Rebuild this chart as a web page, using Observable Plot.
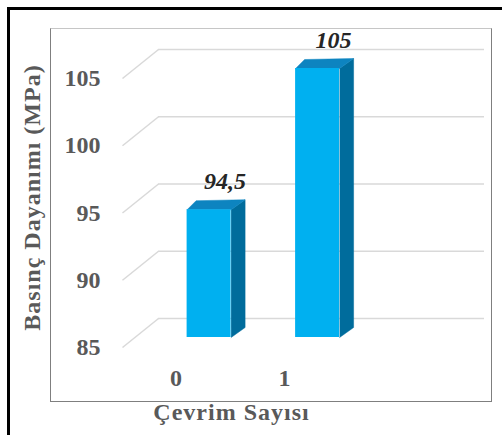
<!DOCTYPE html>
<html>
<head>
<meta charset="utf-8">
<script src="https://cdn.jsdelivr.net/npm/d3@7"></script>
<script src="https://cdn.jsdelivr.net/npm/@observablehq/plot@0.6"></script>
<style>
  html, body { margin: 0; padding: 0; background: #fff; }
  #chart { position: relative; width: 502px; height: 435px; overflow: hidden; background: #fff; }
  /* outer black edge (top and left) */
  #edge { position: absolute; left: 7px; top: 7px; right: -10px; bottom: -10px;
          border-left: 3px solid #000; border-top: 3px solid #000; }
  /* chart area border */
  #box { position: absolute; left: 50px; top: 28px; width: 440px; height: 372px;
         border: 1px solid #7f7f7f; border-top-color: #c6c6c6; }
  #chart svg { position: absolute; left: 0; top: 0; }
  #chart svg text { font-family: "Liberation Serif", "Times New Roman", serif; }
</style>
</head>
<body>
<div id="chart"><div id="edge"></div><div id="box"></div></div>
<script>
// Compressive strength by number of cycles
const cycles = [0, 1];
const cycleLabels = ["0", "1"];
const strength = [94.5, 105];
const yTicks = [85, 90, 95, 100, 105];
const yTitle = "Basınç Dayanımı (MPa)";
const xTitle = "Çevrim Sayısı";

const W = 502, H = 435;
const margin = {left: 122, right: 54, top: 78, bottom: 88};
const xDomain = [-0.6876, 2.317];
const yDomain = [85, 105];

// pixel-to-data helpers for the oblique (3D) depth offsets
const pxPerX = (W - margin.left - margin.right) / (xDomain[1] - xDomain[0]);
const pxPerY = (H - margin.top - margin.bottom) / (yDomain[1] - yDomain[0]);
const ux = (p) => p / pxPerX;
const uy = (p) => p / pxPerY;

const wall = {dx: 36, dy: 29};           // depth of floor / side wall
const bar = {half: 22, fx: 12, fy: 10,    // half width, front-face depth offset
             lx: 9, ly: 9, rx: 14, ry: 10}; // back-edge offsets (left, right)

const bars = cycles.map((c, i) => ({cycle: c, label: cycleLabels[i], value: strength[i]}));
const base = yDomain[0];

const faces = bars.map((d) => {
  const x1 = d.cycle + ux(bar.fx - bar.half);
  const x2 = d.cycle + ux(bar.fx + bar.half);
  const y1 = base + uy(bar.fy);
  const y2 = d.value + uy(bar.fy);
  return {...d, x1, x2, y1, y2};
});

const sidePts = faces.flatMap((f) => [
  {k: f.cycle, x: f.x2, y: f.y1},
  {k: f.cycle, x: f.x2 + ux(bar.rx), y: f.y1 + uy(bar.ry)},
  {k: f.cycle, x: f.x2 + ux(bar.rx), y: f.y2 + uy(bar.ry)},
  {k: f.cycle, x: f.x2, y: f.y2}
]);
const topPts = faces.flatMap((f) => [
  {k: f.cycle, x: f.x1, y: f.y2},
  {k: f.cycle, x: f.x1 + ux(bar.lx), y: f.y2 + uy(bar.ly)},
  {k: f.cycle, x: f.x2 + ux(bar.rx), y: f.y2 + uy(bar.ry)},
  {k: f.cycle, x: f.x2, y: f.y2}
]);

const grey = "#595959";
const fontBold = {fontSize: 24, fontWeight: "bold", fontFamily: "Liberation Serif"};

const chart = Plot.plot({
  width: W,
  height: H,
  marginLeft: margin.left,
  marginRight: margin.right,
  marginTop: margin.top,
  marginBottom: margin.bottom,
  style: "background: transparent; overflow: visible;",
  x: {domain: xDomain, axis: null},
  y: {domain: yDomain},
  marks: [
    // side-wall diagonals
    Plot.link(yTicks, {
      x1: () => xDomain[0], y1: (d) => d,
      x2: () => xDomain[0] + ux(wall.dx), y2: (d) => d + uy(wall.dy),
      stroke: "#d9d9d9", strokeWidth: 1.5
    }),
    // back-wall gridlines
    Plot.ruleY(yTicks, {
      y: (d) => d + uy(wall.dy),
      x1: () => xDomain[0] + ux(wall.dx), x2: () => xDomain[1] + ux(wall.dx),
      stroke: "#d9d9d9", strokeWidth: 1.5
    }),
    Plot.axisY(yTicks, {
      tickSize: 0, tickPadding: 22, label: null,
      color: grey, ...fontBold
    }),
    // bar faces
    Plot.line(sidePts, {x: "x", y: "y", z: "k", fill: "#006c9c", stroke: "#006c9c", strokeWidth: 0.5}),
    Plot.line(topPts, {x: "x", y: "y", z: "k", fill: "#0d84c0", stroke: "#0d84c0", strokeWidth: 0.5}),
    Plot.rect(faces, {x1: "x1", x2: "x2", y1: "y1", y2: "y2", fill: "#00b0f0"}),
    // value labels
    Plot.text(bars, {
      x: "cycle", y: "value",
      text: (d) => String(d.value).replace(".", ","),
      dx: 28, dy: -38.5, fill: "#262626", fontStyle: "italic", ...fontBold
    }),
    // category labels
    Plot.text(bars, {
      x: "cycle", y: () => base, text: "label",
      dx: -21, dy: 31, fill: grey, ...fontBold
    }),
    // axis titles
    Plot.text([yTitle], {
      frameAnchor: "left", textAnchor: "middle", lineAnchor: "middle",
      text: (d) => d, rotate: -90, dx: -90, dy: -15.5,
      fill: grey, ...fontBold
    }),
    Plot.text([xTitle], {
      frameAnchor: "bottom", textAnchor: "middle", lineAnchor: "middle",
      text: (d) => d, dx: -54, dy: 65,
      fill: grey, ...fontBold
    })
  ]
});

// slightly wider tracking on the two axis titles
d3.select(chart).selectAll("text")
  .filter(function () { return this.textContent === yTitle || this.textContent === xTitle; })
  .style("letter-spacing", "1px");

document.getElementById("chart").appendChild(chart);
</script>
</body>
</html>
